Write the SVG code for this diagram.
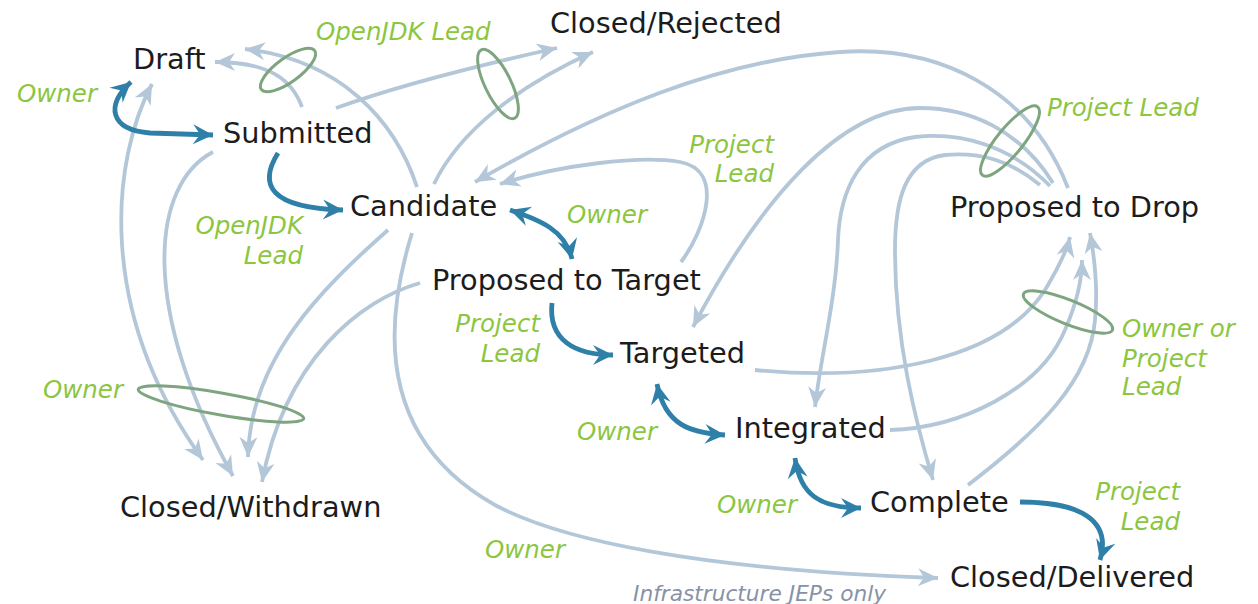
<svg xmlns="http://www.w3.org/2000/svg" width="1258" height="604" viewBox="0 0 1258 604">
<defs>
<style>
.node{font-family:"DejaVu Sans",Verdana,sans-serif;font-size:28.8px;fill:#1c1c1c}
.lbl{font-family:"DejaVu Sans",Verdana,sans-serif;font-size:24.5px;font-style:italic;fill:#8cc63f}
.note{font-family:"DejaVu Sans",Verdana,sans-serif;font-size:21.7px;font-style:italic;fill:#8792a6}
.lt{fill:none;stroke:#b3c7d9;stroke-width:3.8;marker-end:url(#la)}
.dk{fill:none;stroke:#2f80a9;stroke-width:4.8;marker-end:url(#da)}
.ring{fill:none;stroke:#7ea580;stroke-width:3}
</style>
<marker id="la" markerUnits="userSpaceOnUse" orient="auto-start-reverse" markerWidth="24" markerHeight="24" refX="0" refY="0" overflow="visible">
<path d="M0,0 L-20,-9 L-14,0 L-20,9 Z" fill="#b3c7d9"/>
</marker>
<marker id="da" markerUnits="userSpaceOnUse" orient="auto-start-reverse" markerWidth="24" markerHeight="24" refX="0" refY="0" overflow="visible">
<path d="M0,0 L-20,-10 L-13,0 L-20,10 Z" fill="#2f80a9"/>
</marker>
</defs>
<rect width="1258" height="604" fill="#ffffff"/>

<g id="connectors">
<path class="lt" style="marker-start:url(#la)" d="M152,84 C112,160 95,310 203,460"/>
<path class="lt" d="M213,152 C150,185 140,310 233,476"/>
<path class="lt" d="M388,230 C320,290 250,360 248,457"/>
<path class="lt" d="M420,283 C360,300 285,360 262,482"/>
<path class="lt" d="M302,107 C292,80 270,62 215,62"/>
<path class="lt" d="M417,187 C395,120 340,60 245,49"/>
<path class="lt" d="M336,108 C400,85 480,65 557,48"/>
<path class="lt" d="M434,184 C460,130 520,85 593,52"/>
<path class="lt" d="M1068,188 C1030,90 940,45 840,52 C720,60 600,110 475,182"/>
<path class="lt" d="M681,262 C705,230 725,170 680,162 C640,155 560,165 500,184"/>
<path class="lt" d="M1053,183 C1020,130 970,108 920,108 C840,108 760,200 693,327"/>
<path class="lt" d="M1050,186 C1010,145 960,132 915,137 C860,145 840,190 838,240 C836,300 820,360 815,407"/>
<path class="lt" d="M1040,185 C1010,160 980,152 945,155 C905,160 895,200 895,250 C895,340 915,420 933,480"/>
<path class="lt" d="M755,370 C880,382 1000,360 1045,290 C1060,265 1067,250 1070,237"/>
<path class="lt" d="M890,430 C960,428 1040,390 1065,330 C1078,300 1082,280 1082,260"/>
<path class="lt" d="M968,485 C1040,430 1090,380 1095,320 C1098,290 1094,255 1090,233"/>
<path class="lt" d="M412,233 C382,330 380,440 495,505 C560,540 700,570 938,578"/>
<path class="dk" style="marker-start:url(#da)" d="M131,82 C105,105 110,130 150,133 L213,135"/>
<path class="dk" d="M278,153 C258,185 270,208 343,210"/>
<path class="dk" style="marker-start:url(#da)" d="M510,210 C540,220 565,230 572,259"/>
<path class="dk" d="M552,303 C548,340 575,355 613,355"/>
<path class="dk" style="marker-start:url(#da)" d="M657,384 C665,425 690,433 725,435"/>
<path class="dk" style="marker-start:url(#da)" d="M795,458 C800,495 820,508 861,508"/>
<path class="dk" d="M1020,502 C1080,502 1112,520 1100,560"/>
<ellipse class="ring" cx="288" cy="70" rx="33" ry="12" transform="rotate(-36 288 70)"/>
<ellipse class="ring" cx="498" cy="84" rx="38" ry="13" transform="rotate(64 498 84)"/>
<ellipse class="ring" cx="1010" cy="141" rx="44" ry="13" transform="rotate(-51 1010 141)"/>
<ellipse class="ring" cx="1068" cy="312" rx="48" ry="12" transform="rotate(22 1068 312)"/>
<ellipse class="ring" cx="221" cy="404" rx="84" ry="11" transform="rotate(10 221 404)"/>
</g>

<g id="draft"><text class="node" x="133" y="69">Draft</text></g>
<g id="submitted"><text class="node" x="223" y="143">Submitted</text></g>
<g id="candidate"><text class="node" x="350" y="216">Candidate</text></g>
<g id="proposed-to-target"><text class="node" x="432" y="290">Proposed to Target</text></g>
<g id="targeted"><text class="node" x="620" y="363">Targeted</text></g>
<g id="integrated"><text class="node" x="735" y="438">Integrated</text></g>
<g id="complete"><text class="node" x="870" y="512">Complete</text></g>
<g id="closed-delivered"><text class="node" x="950" y="587">Closed/Delivered</text></g>
<g id="closed-withdrawn"><text class="node" x="120" y="517">Closed/Withdrawn</text></g>
<g id="closed-rejected"><text class="node" x="550" y="33">Closed/Rejected</text></g>
<g id="proposed-to-drop"><text class="node" x="950" y="217">Proposed to Drop</text></g>

<g id="labels">
<text class="lbl" x="316" y="40">OpenJDK Lead</text>
<text class="lbl" x="17" y="102">Owner</text>
<text class="lbl" x="303" y="234" text-anchor="end">OpenJDK</text>
<text class="lbl" x="303" y="264" text-anchor="end">Lead</text>
<text class="lbl" x="567" y="223">Owner</text>
<text class="lbl" x="774" y="153" text-anchor="end">Project</text>
<text class="lbl" x="774" y="182" text-anchor="end">Lead</text>
<text class="lbl" x="1047" y="116">Project Lead</text>
<text class="lbl" x="540" y="332" text-anchor="end">Project</text>
<text class="lbl" x="540" y="362" text-anchor="end">Lead</text>
<text class="lbl" x="43" y="398">Owner</text>
<text class="lbl" x="1122" y="337">Owner or</text>
<text class="lbl" x="1122" y="367">Project</text>
<text class="lbl" x="1122" y="395">Lead</text>
<text class="lbl" x="577" y="440">Owner</text>
<text class="lbl" x="717" y="513">Owner</text>
<text class="lbl" x="1180" y="500" text-anchor="end">Project</text>
<text class="lbl" x="1180" y="530" text-anchor="end">Lead</text>
<text class="lbl" x="485" y="558">Owner</text>
<text class="note" x="633" y="601">Infrastructure JEPs only</text>
</g>
</svg>
